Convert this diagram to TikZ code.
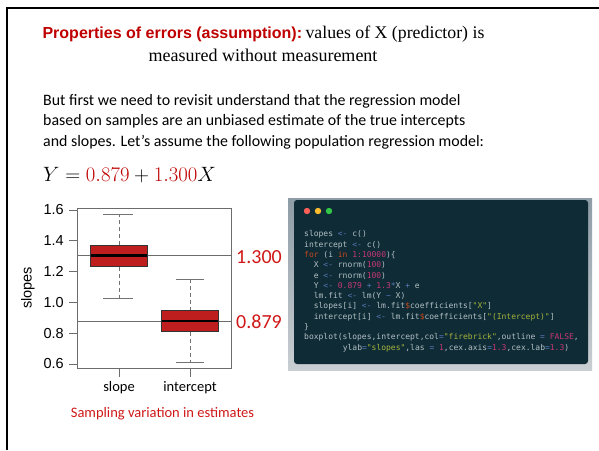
\documentclass[tikz,border=0pt]{standalone}
\usepackage{fontspec}
\setmainfont{Liberation Serif}
\newfontfamily\arialf{Liberation Sans}
\newfontfamily\calf{Carlito}
\setmonofont[Ligatures=NoCommon]{DejaVu Sans Mono}
\definecolor{tred}{HTML}{C00000}
\definecolor{lred}{HTML}{D01818}
\definecolor{fbrick}{HTML}{BE1E1E}
\definecolor{codebg}{HTML}{0E2B36}
\definecolor{frametop}{HTML}{8E9CA6}
\definecolor{framebot}{HTML}{C9CED2}
\definecolor{ctext}{HTML}{B4C0C4}
\definecolor{cop}{HTML}{5A7AB8}
\definecolor{ckw}{HTML}{C8481C}
\definecolor{cnum}{HTML}{C73874}
\definecolor{cstr}{HTML}{A7B53A}
\definecolor{dotr}{HTML}{FC5F57}
\definecolor{doty}{HTML}{FDBC2E}
\definecolor{dotg}{HTML}{33C748}
\newcommand\cop[1]{\textcolor{cop}{#1}}
\newcommand\ckw[1]{\textcolor{ckw}{#1}}
\newcommand\cnum[1]{\textcolor{cnum}{#1}}
\newcommand\cstr[1]{\textcolor{cstr}{#1}}
\newcommand\qq{\char34\relax}
\tikzset{
  codeline/.style={anchor=base west,inner sep=0pt,text=ctext,font=\ttfamily\fontsize{8}{9}\selectfont},
  paraline/.style={anchor=base west,inner sep=0pt,font=\calf\fontsize{15.9}{18}\selectfont},
  ticklab/.style={anchor=east,inner sep=0pt,font=\arialf\fontsize{14.5}{16}\selectfont},
  xlab/.style={anchor=base,inner sep=0pt,font=\calf\fontsize{14.5}{16}\selectfont},
  vallab/.style={anchor=west,inner sep=0pt,text=lred,font=\calf\fontsize{20}{22}\selectfont},
  whisk/.style={draw=gray!90!black,line width=0.8pt,dash pattern=on 4pt off 3pt},
  wcap/.style={draw=gray!90!black,line width=0.8pt},
  bxp/.style={fill=fbrick,draw=black!80,line width=0.8pt},
  med/.style={draw=black,line width=2.6pt},
  refline/.style={draw=gray!85!black,line width=0.8pt},
  dot/.style={circle,inner sep=0pt,minimum size=6.4pt}
}
\begin{document}
\begin{tikzpicture}[x=1pt,y=-1pt]
\useasboundingbox (0,0) rectangle (599,450);
\fill[white] (0,0) rectangle (599,450);
\draw[line width=2.3pt] (6.8,450) -- (6.8,7.8) -- (599,7.8);

% title
\node[anchor=base,inner sep=0pt] (title1) at (263.5,38.5)
  {{\arialf\bfseries\fontsize{16}{18}\selectfont\color{tred}Properties of errors (assumption):}
   \fontsize{17.8}{20}\selectfont values of X (predictor) is};
\node[anchor=base,inner sep=0pt,font=\fontsize{18}{20}\selectfont] (title2) at (263,61.7)
  {measured without measurement};

% paragraph
\node[paraline] (p1) at (43,105) {But first we need to revisit understand that the regression model};
\node[paraline] (p2) at (43,125.5) {based on samples are an unbiased estimate of the true intercepts};
\node[paraline] (p3) at (43,146) {and slopes. Let’s assume the following population regression model:};

% equation
\node[anchor=base west,inner sep=0pt,font=\fontsize{20}{24}\selectfont] (eq) at (43,181.7)
  {$Y = \textcolor{tred}{0.879} + \textcolor{tred}{1.300}X$};

% boxplot
\draw[refline] (77,255.7) -- (231.7,255.7);
\draw[refline] (77,321) -- (231.7,321);
\draw[draw=gray!85!black,line width=0.8pt] (77,208.3) rectangle (231.7,368.3);
\foreach \v/\y in {0.6/364,0.8/333.2,1.0/302.4,1.2/271.6,1.4/240.8,1.6/210}{
  \draw[draw=gray!85!black,line width=0.8pt] (69,\y) -- (77,\y);
  \node[ticklab] (t\v) at (64,\y) {\v};
}
\node[rotate=90,inner sep=0pt,font=\arialf\fontsize{14.5}{16}\selectfont] (ylab) at (28,288) {slopes};
\draw[draw=gray!85!black,line width=0.8pt] (119,368.3) -- (119,376.5);
\draw[draw=gray!85!black,line width=0.8pt] (190,368.3) -- (190,376.5);
\node[xlab] (xs) at (119,391.7) {slope};
\node[xlab] (xi) at (190,391.7) {intercept};

% slope box
\draw[whisk] (119,245.3) -- (119,214);
\draw[whisk] (119,266.7) -- (119,298);
\draw[wcap] (103.3,214) -- (133.3,214);
\draw[wcap] (103.3,298) -- (133.3,298);
\draw[bxp] (90.7,245.3) rectangle (147.3,266.7);
\draw[med] (90.7,255.7) -- (147.3,255.7);
% intercept box
\draw[whisk] (190,310.7) -- (190,279.3);
\draw[whisk] (190,331.7) -- (190,362.7);
\draw[wcap] (175.7,279.3) -- (204,279.3);
\draw[wcap] (175.7,362.7) -- (204,362.7);
\draw[bxp] (161.7,310.7) rectangle (218.3,331.7);
\draw[med] (161.7,321) -- (218.3,321);

\node[vallab] (v1) at (236,257) {1.300};
\node[vallab] (v2) at (236,322) {0.879};
\node[anchor=base,inner sep=0pt,text=lred,font=\calf\fontsize{14.5}{16}\selectfont] (cap) at (162.5,417.7)
  {Sampling variation in estimates};

% code panel
\shade[top color=frametop,bottom color=framebot] (288,198) rectangle (592,370);
\fill[codebg,rounded corners=3pt] (294,200) rectangle (588,364);
\node[dot,fill=dotr] (d1) at (307,211) {};
\node[dot,fill=doty] (d2) at (318,211) {};
\node[dot,fill=dotg] (d3) at (329,211) {};

\node[codeline] (c1) at (304,236.8) {slopes \cop{<-} c()};
\node[codeline] (c2) at (304,247.1) {intercept \cop{<-} c()};
\node[codeline] (c3) at (304,257.4) {\ckw{for} (i \ckw{in} \cnum{1:10000})\{};
\node[codeline] (c4) at (313.6,267.7) {X \cop{<-} rnorm(\cnum{100})};
\node[codeline] (c5) at (313.6,278.0) {e \cop{<-} rnorm(\cnum{100})};
\node[codeline] (c6) at (313.6,288.3) {Y \cop{<-} \cnum{0.879} \cop{+} \cnum{1.3}\cop{*}X \cop{+} e};
\node[codeline] (c7) at (313.6,298.6) {lm.fit \cop{<-} lm(Y \cop{\char126\relax} X)};
\node[codeline] (c8) at (313.6,308.9) {slopes[i] \cop{<-} lm.fit\ckw{\$}coefficients[\cstr{\qq X\qq}]};
\node[codeline] (c9) at (313.6,319.2) {intercept[i] \cop{<-} lm.fit\ckw{\$}coefficients[\cstr{\qq(Intercept)\qq}]};
\node[codeline] (c10) at (304,329.5) {\}};
\node[codeline] (c11) at (304,339.8) {boxplot(slopes,intercept,col\cop{=}\cstr{\qq firebrick\qq},outline \cop{=} \cnum{FALSE},};
\node[codeline] (c12) at (342.6,350.1) {ylab\cop{=}\cstr{\qq slopes\qq},las \cop{=} \cnum{1},cex.axis\cop{=}\cnum{1.3},cex.lab\cop{=}\cnum{1.3})};
\end{tikzpicture}
\end{document}
